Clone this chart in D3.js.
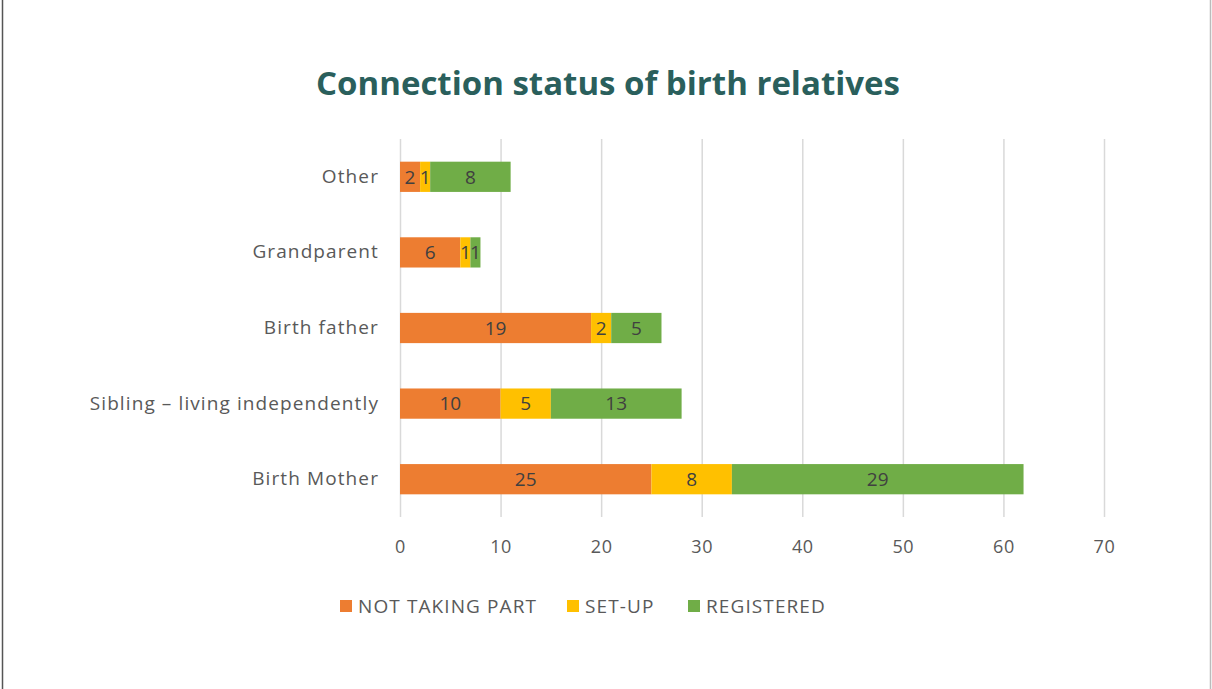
<!DOCTYPE html>
<html><head><meta charset="utf-8">
<script src="https://cdn.jsdelivr.net/npm/d3@7"></script>
<style>body{margin:0;background:#fff;} svg{display:block;}</style>
</head><body>
<svg id="c" width="1212" height="689"></svg>
<script>
const categories = ["Other","Grandparent","Birth father","Sibling \u2013 living independently","Birth Mother"];
const seriesNames = ["NOT TAKING PART","SET-UP","REGISTERED"];
const notTakingPart = [2,6,19,10,25];
const setUp = [1,1,2,5,8];
const registered = [8,1,5,13,29];
const xTicks = [0,10,20,30,40,50,60,70];
const colors = ["#ED7D31","#FFC000","#70AD47"];

const svg = d3.select("#c");
const W=1212,H=689;
svg.append("rect").attr("width",W).attr("height",H).attr("fill","#fff");
svg.append("line").attr("x1",2.5).attr("x2",2.5).attr("y1",0).attr("y2",H).attr("stroke","#555").attr("stroke-width",1.5);
svg.append("line").attr("x1",1210.5).attr("x2",1210.5).attr("y1",0).attr("y2",H).attr("stroke","#bbb").attr("stroke-width",1.5);

svg.append("text").attr("x",608).attr("y",95).attr("text-anchor","middle")
  .attr("font-family","Open Sans").attr("font-weight","bold").attr("font-size",33)
  .attr("fill","#2A5F5C").text("Connection status of birth relatives");

const x = d3.scaleLinear().domain([0,70]).range([400,1104]);
const y = d3.scaleBand().domain(categories).range([139,517]).paddingInner(0.6).paddingOuter(0.3);

svg.append("g").selectAll("line").data(xTicks).join("line")
  .attr("x1",d=>x(d)+0.5).attr("x2",d=>x(d)+0.5).attr("y1",139).attr("y2",517)
  .attr("stroke","#d9d9d9").attr("stroke-width",1.5);

const xAxis = d3.axisBottom(x).tickValues(xTicks).tickSize(0).tickPadding(0);
const gx = svg.append("g").attr("transform","translate(0,553)").call(xAxis);
gx.select(".domain").remove();
gx.selectAll("text").attr("font-family","Open Sans").attr("font-size",18).attr("fill","#595959").attr("dy",0).attr("letter-spacing",0.6);

const yAxis = d3.axisLeft(y).tickSize(0).tickPadding(21);
const gy = svg.append("g").attr("transform","translate(400,0)").call(yAxis);
gy.select(".domain").remove();
gy.selectAll("text").attr("font-family","Open Sans").attr("font-size",19).attr("fill","#595959").attr("letter-spacing",1.1);

const table = categories.map((c,i)=>({cat:c, vals:[notTakingPart[i],setUp[i],registered[i]]}));
const stack = d3.stack().keys([0,1,2]).value((d,k)=>d.vals[k]);
const layers = stack(table);

layers.forEach((layer,k)=>{
  const g = svg.append("g");
  g.selectAll("rect").data(layer).join("rect")
    .attr("x",d=>x(d[0])).attr("width",d=>x(d[1])-x(d[0]))
    .attr("y",d=>y(d.data.cat)).attr("height",y.bandwidth())
    .attr("fill",colors[k]);
  g.selectAll("text").data(layer).join("text")
    .attr("x",d=>(x(d[0])+x(d[1]))/2).attr("y",d=>y(d.data.cat)+y.bandwidth()/2)
    .attr("dy","0.36em").attr("text-anchor","middle")
    .attr("font-family","Open Sans").attr("font-size",19).attr("fill","#404040")
    .text(d=>d.data.vals[k]);
});

const legX = [340,567,688];
seriesNames.forEach((s,i)=>{
  svg.append("rect").attr("x",legX[i]).attr("y",600).attr("width",12).attr("height",12).attr("fill",colors[i]);
  svg.append("text").attr("x",legX[i]+18).attr("y",606).attr("dy","0.36em")
    .attr("font-family","Open Sans").attr("font-size",19).attr("fill","#595959").attr("letter-spacing",1.1).text(s);
});
</script>
</body></html>
